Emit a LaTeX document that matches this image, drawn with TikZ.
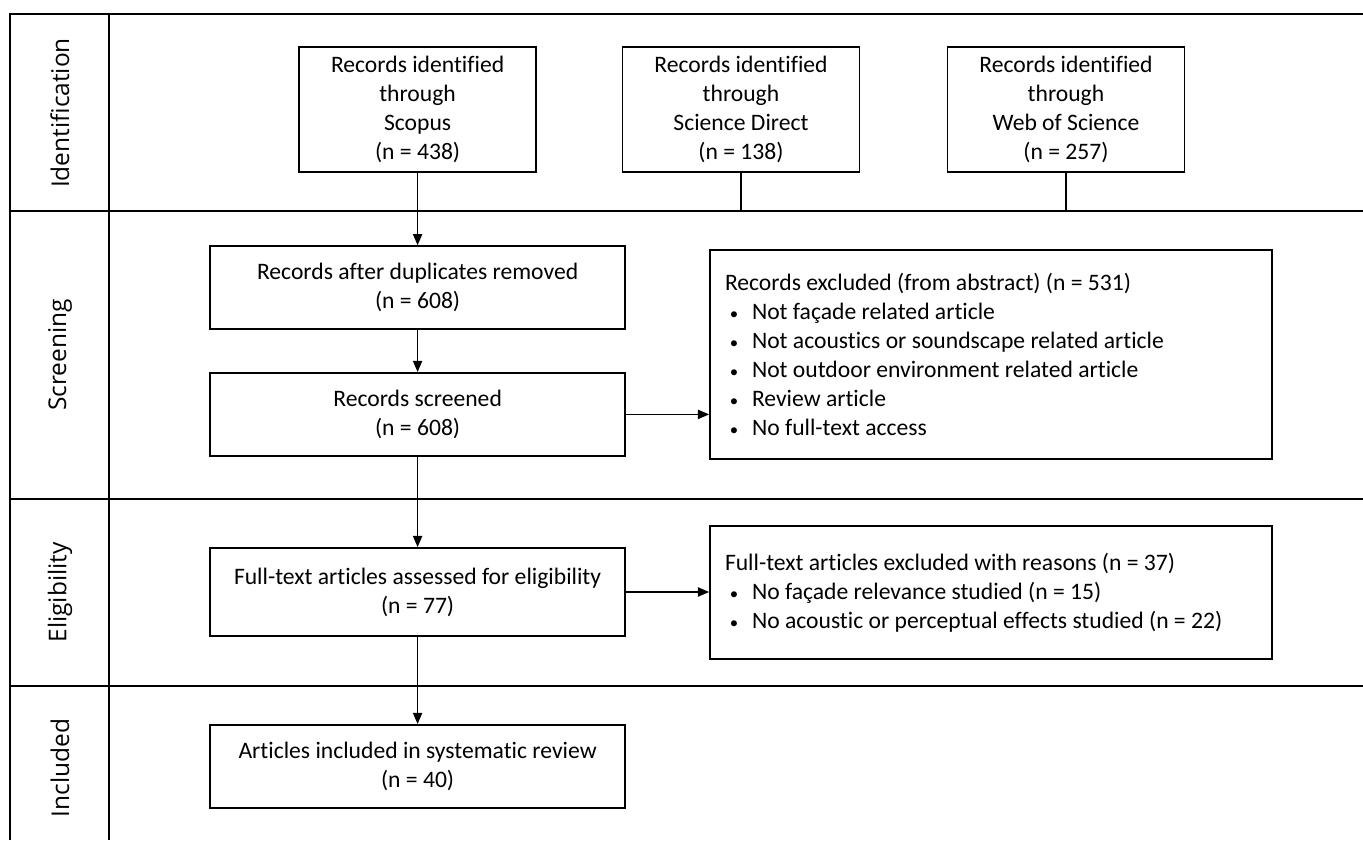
\documentclass[tikz,border=0pt]{standalone}
\usepackage{fontspec}
\setmainfont{Carlito}[Ligatures={CommonOff}]
\newfontfamily\lanefont{Open Sans}
\usetikzlibrary{arrows.meta}
\newcommand{\bitem}{\makebox[0.675cm][l]{\hspace{0.12cm}{\fontsize{12}{12}\selectfont\textbullet}}}
\tikzset{
    every node/.style={inner sep=0mm, font=\fontsize{16.8}{20.6}\selectfont}
}
\tikzset{
    box/.style={rectangle, draw, line width=1.2pt, align=center},
    listbox/.style={box, align=left, inner xsep=0.375cm, text width=13.3cm,
        execute at begin node={\spaceskip=0pt\xspaceskip=0pt}},
    lane/.style={rotate=90, font=\lanefont\fontsize{17.4}{21}\selectfont},
    frame/.style={line width=1.2pt},
    flow/.style={line width=1.2pt, -{Triangle[length=8pt, width=6.5pt]}}
}

\begin{document}
\begin{tikzpicture}
    \useasboundingbox (0cm, 0cm) rectangle (34.075cm, -21cm);

    \coordinate (t0) at (0.25cm, -0.35cm);
    \coordinate (t1) at (34.075cm, -0.35cm);
    \coordinate (h1) at (0.25cm, -5.275cm);
    \coordinate (h1e) at (34.075cm, -5.275cm);
    \coordinate (h2) at (0.25cm, -12.475cm);
    \coordinate (h2e) at (34.075cm, -12.475cm);
    \coordinate (h3) at (0.25cm, -17.15cm);
    \coordinate (h3e) at (34.075cm, -17.15cm);
    \coordinate (b0) at (0.25cm, -21cm);
    \coordinate (d0) at (2.725cm, -0.35cm);
    \coordinate (d1) at (2.725cm, -21cm);

    \draw[frame] (b0) -- (t0) -- (t1);
    \draw[frame] (d0) -- (d1);
    \draw[frame] (h1) -- (h1e);
    \draw[frame] (h2) -- (h2e);
    \draw[frame] (h3) -- (h3e);

    \node (l1) [lane] at (1.5cm, -2.825cm) {Identification};
    \node (l2) [lane] at (1.5cm, -8.875cm) {Screening};
    \node (l3) [lane] at (1.5cm, -14.81cm) {Eligibility};
    \node (l4) [lane] at (1.5cm, -19.2cm) {Included};

    \node (r1) [box, minimum width=5.925cm, minimum height=3.125cm] at (10.44cm, -2.74cm)
        {Records identified\\through\\Scopus\\(n = 438)};
    \node (r2) [box, minimum width=5.925cm, minimum height=3.125cm] at (18.525cm, -2.74cm)
        {Records identified\\through\\Science Direct\\(n = 138)};
    \node (r3) [box, minimum width=5.925cm, minimum height=3.125cm] at (26.65cm, -2.74cm)
        {Records identified\\through\\Web of Science\\(n = 257)};

    \node (dup) [box, minimum width=10.375cm, minimum height=2.075cm] at (10.44cm, -7.19cm)
        {Records after duplicates removed\\(n = 608)};
    \node (scr) [box, minimum width=10.375cm, minimum height=2.075cm] at (10.44cm, -10.36cm)
        {Records screened\\(n = 608)};
    \node (ex1) [listbox, minimum height=5.225cm] at (24.775cm, -8.86cm)
        {Records excluded (from abstract) (n = 531)\\
         \bitem Not façade related article\\
         \bitem Not acoustics or soundscape related article\\
         \bitem Not outdoor environment related article\\
         \bitem Review article\\
         \bitem No full-text access};

    \node (elg) [box, minimum width=10.375cm, minimum height=2.2cm] at (10.44cm, -14.8cm)
        {Full-text articles assessed for eligibility\\(n = 77)};
    \node (ex2) [listbox, minimum height=3.325cm] at (24.775cm, -14.81cm)
        {Full-text articles excluded with reasons (n = 37)\\
         \bitem No façade relevance studied (n = 15)\\
         \bitem No acoustic or perceptual effects studied (n = 22)};

    \node (inc) [box, minimum width=10.375cm, minimum height=2.075cm] at (10.44cm, -19.16cm)
        {Articles included in systematic review\\(n = 40)};

    \draw[line width=1.2pt] (r2) -- (r2 |- h1);
    \draw[line width=1.2pt] (r3) -- (r3 |- h1);
    \draw[flow] (r1) -- (dup);
    \draw[flow] (dup) -- (scr);
    \draw[flow] (scr) -- (scr -| ex1.west);
    \draw[flow] (scr) -- (elg);
    \draw[flow] (elg) -- (elg -| ex2.west);
    \draw[flow] (elg) -- (inc);
\end{tikzpicture}
\end{document}
